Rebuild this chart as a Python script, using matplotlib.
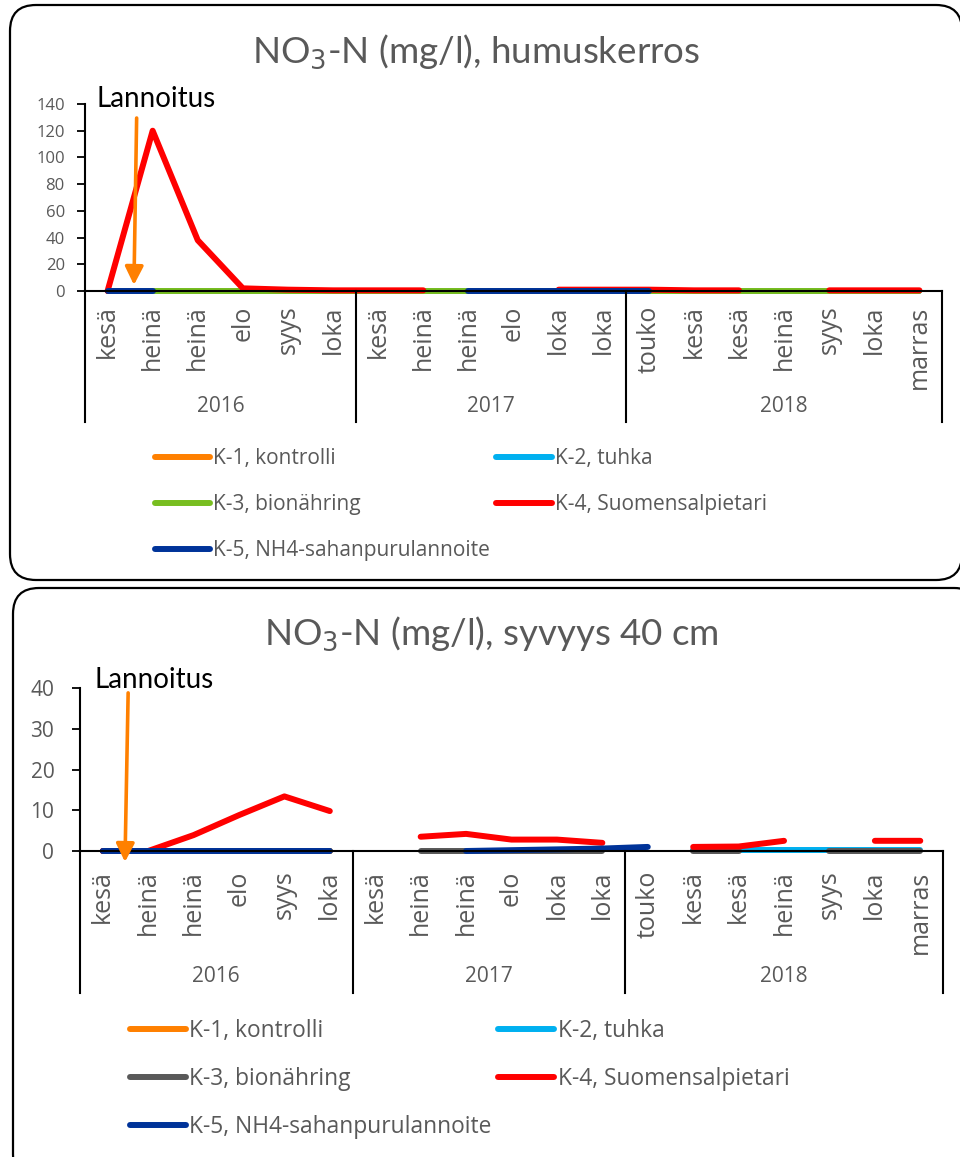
import numpy as np
import matplotlib
matplotlib.use('Agg')
import matplotlib.pyplot as plt
from matplotlib.patches import FancyBboxPatch

plt.rcParams['font.family'] = ['Open Sans', 'DejaVu Sans']

nan = np.nan

# kuukaudet ja vuodet (monitasoinen luokka-akseli)
kuukaudet = ['kesä', 'heinä', 'heinä', 'elo', 'syys', 'loka',
             'kesä', 'heinä', 'heinä', 'elo', 'loka', 'loka',
             'touko', 'kesä', 'kesä', 'heinä', 'syys', 'loka', 'marras']
vuodet = ['2016', '2017', '2018']
vuoden_koko = [6, 6, 7]

nimet = ['K-1, kontrolli', 'K-2, tuhka', 'K-3, bionähring',
         'K-4, Suomensalpietari', 'K-5, NH4-sahanpurulannoite']

# humuskerros
k1_humus = [0] * 19
k2_humus = [0] * 19
k3_humus = [0] * 19
k4_humus = [0, 120, 38, 2, 1, 0.5, 0.5, 0.5, nan, nan, 1.0, 1.0, 1.0,
            0.5, 0.5, nan, 0.5, 0.5, 0.5]
k5_humus = [0, 0, nan, nan, nan, nan, nan, nan, 0, 0, 0, 0, 0,
            nan, nan, nan, nan, nan, nan]

# syvyys 40 cm
k1_40 = [0, 0, 0, 0, 0, 0] + [nan] * 13
k2_40 = [nan] * 13 + [0.2, 0.2, 0.2, 0.2, 0.2, 0.2]
k3_40 = [0, 0, 0, 0, 0, 0, nan, 0, 0, 0, 0, 0, nan, 0, 0, nan, 0, 0, 0]
k4_40 = [0, 0, 3.9, 8.8, 13.4, 9.8, nan, 3.5, 4.2, 2.8, 2.8, 2.0, nan,
         1.0, 1.1, 2.5, nan, 2.5, 2.5]
k5_40 = [0, 0, 0, 0, 0, 0, nan, nan, 0, 0.2, 0.4, 0.6, 1.0] + [nan] * 6

varit_humus = ['#FF8000', '#00B0F0', '#78BE20', '#FF0000', '#003399']
varit_40 = ['#FF8000', '#00B0F0', '#595959', '#FF0000', '#003399']

harmaa = '#595959'
otsikko_fontti = 'Lato'

fig = plt.figure(figsize=(9.6, 11.57), dpi=100)

# pyöristetyt kehykset taustalle
tausta = fig.add_axes([0, 0, 1, 1], zorder=-1)
tausta.set_xlim(0, 960)
tausta.set_ylim(1157, 0)
tausta.axis('off')
for x0, y0, x1, y1 in [(10, 5, 962, 580), (13, 588, 980, 1180)]:
    tausta.add_patch(FancyBboxPatch((x0, y0), x1 - x0, y1 - y0,
                                    boxstyle='round,pad=0,rounding_size=26',
                                    fc='white', ec='black', lw=1.6))


def piirra(ax, sarjat, varit, ymax, ystep, otsikko, otsikko_xy, ytick_koko,
           ypad, xtick_koko, xpad, nuoli, viiva_ala, vuosi_y, legend_pos,
           legend_koko, legend_vali, kahva):
    x = np.arange(len(kuukaudet))
    viivat = []
    for arvot, vari, nimi in zip(sarjat, varit, nimet):
        l, = ax.plot(x, arvot, color=vari, lw=4.3, label=nimi,
                     solid_capstyle='round', solid_joinstyle='round',
                     clip_on=False)
        viivat.append(l)

    ax.set_xlim(-0.5, len(kuukaudet) - 0.5)
    ax.set_ylim(0, ymax)
    ax.set_yticks(np.arange(0, ymax + 1, ystep))
    ax.set_xticks(x)
    ax.set_xticklabels(kuukaudet, rotation=90, fontsize=xtick_koko,
                       color=harmaa)
    ax.tick_params(axis='x', length=0, pad=xpad)
    ax.tick_params(axis='y', length=5.5, width=1.3, pad=ypad,
                   labelsize=ytick_koko, labelcolor=harmaa)
    for s in ['top', 'right']:
        ax.spines[s].set_visible(False)
    for s in ['left', 'bottom']:
        ax.spines[s].set_linewidth(1.5)

    fig.text(otsikko_xy[0] / 960, 1 - otsikko_xy[1] / 1157, otsikko,
             ha='center', va='center', fontsize=26.5, color=harmaa,
             family=otsikko_fontti)

    # vuosien erottimet ja nimet
    tr = ax.get_xaxis_transform()
    rajat = np.concatenate([[0], np.cumsum(vuoden_koko)]) - 0.5
    for r in rajat:
        ax.plot([r, r], [0, viiva_ala], color='black', lw=1.5,
                transform=tr, clip_on=False)
    for i, v in enumerate(vuodet):
        ax.text((rajat[i] + rajat[i + 1]) / 2, vuosi_y, v, transform=tr,
                ha='center', va='center', fontsize=15, color=harmaa)

    # lannoitusajankohta
    (x0, y0), (x1, y1), (tx, ty) = nuoli
    ax.annotate('', xy=(x1, y1), xytext=(x0, y0),
                arrowprops=dict(arrowstyle='-|>,head_length=1.1,head_width=0.55',
                                color='#FF8000', lw=2.6, shrinkA=0, shrinkB=0,
                                mutation_scale=10),
                annotation_clip=False)
    ax.text(tx, ty, 'Lannoitus', ha='left', va='center', fontsize=20,
            color='black', family=otsikko_fontti, clip_on=False)

    # selite rivijärjestyksessä
    jarj = [0, 2, 4, 1, 3]
    fig.legend([viivat[i] for i in jarj], [nimet[i] for i in jarj],
               loc='upper left', bbox_to_anchor=legend_pos, ncol=2,
               frameon=False, borderpad=0, borderaxespad=0,
               handlelength=kahva, handletextpad=0.15, columnspacing=0.3,
               labelspacing=legend_vali,
               prop={'size': legend_koko}, labelcolor=harmaa)


ax1 = fig.add_axes([85 / 960, 1 - 291 / 1157, 857 / 960, 187 / 1157])
piirra(ax1, [k1_humus, k2_humus, k3_humus, k4_humus, k5_humus], varit_humus,
       140, 20, r'NO$_3$-N (mg/l), humuskerros', (476, 52), 12, 9,
       18, 10.5,
       ((0.645, 129.5), (0.585, 4.5), (-0.24, 143.5)),
       -0.70, -0.62, (155 / 960, 1 - 448 / 1157), 15, 1.2, 2.65)

ax2 = fig.add_axes([80 / 960, 1 - 851 / 1157, 863 / 960, 163 / 1157])
piirra(ax2, [k1_40, k2_40, k3_40, k4_40, k5_40], varit_40,
       40, 10, r'NO$_3$-N (mg/l), syvyys 40 cm', (491, 634), 15, 13,
       18, 14,
       ((0.56, 38.8), (0.49, -2.7), (-0.17, 42.0)),
       -0.87, -0.773, (130 / 960, 1 - 1019 / 1157), 16.4, 1.05, 2.45)

fig.savefig('out.png', dpi=100)
